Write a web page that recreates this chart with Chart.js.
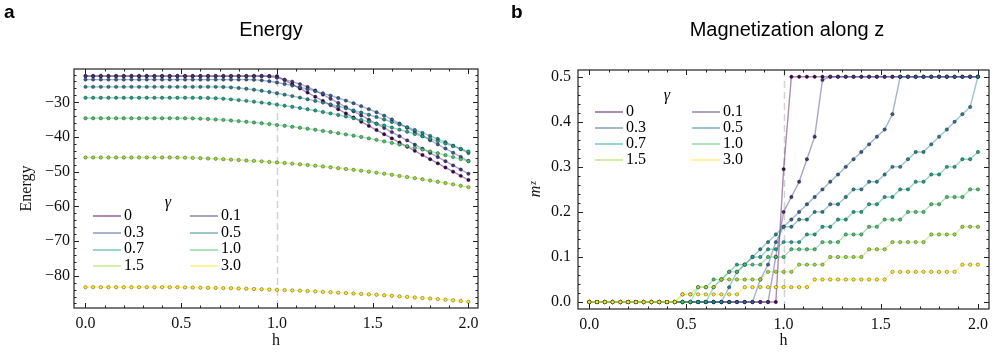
<!DOCTYPE html>
<html>
<head>
<meta charset="utf-8">
<script src="https://cdn.jsdelivr.net/npm/chart.js@4.4.1/dist/chart.umd.min.js"></script>
<style>
  body { margin: 0; background: #fff; }
  #wrap { position: relative; width: 996px; height: 353px; overflow: hidden; }
  canvas { position: absolute; top: 0; }
  .panel { position: absolute; font: bold 19px "Liberation Sans", Arial, sans-serif; color: #000; }
  .title { position: absolute; font: 20px "Liberation Sans", Arial, sans-serif; color: #000; transform: translateX(-50%); white-space: nowrap; }
  .leg { position: absolute; font: 16px "Liberation Serif", serif; color: #000; white-space: nowrap; transform: translateY(-50%); }
  .leg .sw { display: inline-block; width: 28px; height: 2px; vertical-align: middle; margin-right: 3px; }
  .gam { position: absolute; font: italic 16px "Liberation Serif", serif; transform: translate(-50%, -50%); }
</style>
</head>
<body>
<div id="wrap">
  <canvas id="chartEnergy" width="500" height="353" style="left:0"></canvas>
  <canvas id="chartMz" width="496" height="353" style="left:500px"></canvas>
  <div class="panel" style="left:4px; top:1px">a</div>
  <div class="panel" style="left:511px; top:1px">b</div>
  <div class="title" style="left:271px; top:18px">Energy</div>
  <div class="title" style="left:787px; top:18px">Magnetization along z</div>
</div>
<script>
const hValues = [0, 0.04, 0.08, 0.12, 0.16, 0.2, 0.24, 0.28, 0.32, 0.36,
  0.4, 0.44, 0.48, 0.52, 0.56, 0.6, 0.64, 0.68, 0.72, 0.76,
  0.8, 0.84, 0.88, 0.92, 0.96, 1.0, 1.04, 1.08, 1.12, 1.16,
  1.2, 1.24, 1.28, 1.32, 1.36, 1.4, 1.44, 1.48, 1.52, 1.56,
  1.6, 1.64, 1.68, 1.72, 1.76, 1.8, 1.84, 1.88, 1.92, 1.96, 2.0];

const gammaLabels = ["0", "0.1", "0.3", "0.5", "0.7", "1.0", "1.5", "3.0"];
const gammaColors = ["#440154", "#46327e", "#365c8d", "#277f8e", "#1fa187", "#4ac16d", "#a0da39", "#fde725"];

const hTicks = [0, 0.5, 1, 1.5, 2];
const energyTicks = [-80, -70, -60, -50, -40, -30];
const mzTicks = [0, 0.1, 0.2, 0.3, 0.4, 0.5];

const energyG0 = [-22.4, -22.4, -22.4, -22.4, -22.4, -22.4, -22.4, -22.4, -22.4, -22.4,
  -22.4, -22.4, -22.4, -22.4, -22.4, -22.4, -22.4, -22.4, -22.4, -22.4,
  -22.4, -22.4, -22.4, -22.4, -22.4, -22.45, -23.6, -24.8, -26.0, -27.2,
  -28.4, -29.6, -30.8, -32.0, -33.2, -34.4, -35.6, -36.8, -38.0, -39.2,
  -40.4, -41.6, -42.8, -44.0, -45.2, -46.4, -47.6, -48.8, -50.0, -51.2, -52.4];
const energyG01 = [-22.45, -22.45, -22.45, -22.45, -22.45, -22.45, -22.45, -22.45, -22.45, -22.45,
  -22.45, -22.45, -22.45, -22.45, -22.45, -22.45, -22.45, -22.45, -22.45, -22.45,
  -22.45, -22.45, -22.45, -22.45, -22.57, -22.93, -23.45, -24.05, -24.75, -25.57,
  -26.60, -27.79, -28.99, -30.19, -31.39, -32.59, -33.79, -34.99, -36.19, -37.39,
  -38.59, -39.79, -40.99, -42.19, -43.39, -44.59, -45.79, -46.99, -48.19, -49.39, -50.59];
const energyG03 = [-23.45, -23.45, -23.45, -23.45, -23.45, -23.45, -23.45, -23.45, -23.45, -23.45,
  -23.45, -23.45, -23.45, -23.45, -23.45, -23.45, -23.45, -23.45, -23.45, -23.45,
  -23.45, -23.45, -23.51, -23.67, -23.93, -24.29, -24.71, -25.17, -25.67, -26.21,
  -26.79, -27.41, -28.07, -28.77, -29.51, -30.29, -31.11, -31.97, -32.87, -33.83,
  -34.93, -36.13, -37.33, -38.53, -39.73, -40.93, -42.13, -43.33, -44.53, -45.73, -46.93];
const energyG05 = [-25.55, -25.55, -25.55, -25.55, -25.55, -25.55, -25.55, -25.55, -25.55, -25.55,
  -25.55, -25.55, -25.55, -25.55, -25.55, -25.55, -25.55, -25.55, -25.59, -25.71,
  -25.89, -26.11, -26.37, -26.67, -27.01, -27.39, -27.79, -28.21, -28.65, -29.11,
  -29.59, -30.09, -30.61, -31.15, -31.73, -32.33, -32.95, -33.59, -34.25, -34.95,
  -35.67, -36.41, -37.19, -37.99, -38.81, -39.67, -40.57, -41.51, -42.49, -43.51, -44.63];
const energyG07 = [-28.7, -28.7, -28.7, -28.7, -28.7, -28.7, -28.7, -28.7, -28.7, -28.7,
  -28.7, -28.7, -28.7, -28.7, -28.7, -28.7, -28.74, -28.84, -28.98, -29.16,
  -29.36, -29.58, -29.82, -30.08, -30.36, -30.66, -30.98, -31.30, -31.64, -32.00,
  -32.38, -32.78, -33.20, -33.64, -34.10, -34.58, -35.08, -35.60, -36.14, -36.70,
  -37.28, -37.88, -38.50, -39.14, -39.80, -40.48, -41.18, -41.90, -42.64, -43.40, -44.18];
const energyG10 = [-34.6, -34.6, -34.6, -34.6, -34.6, -34.6, -34.6, -34.6, -34.6, -34.6,
  -34.6, -34.6, -34.6, -34.6, -34.64, -34.72, -34.82, -34.94, -35.08, -35.24,
  -35.42, -35.62, -35.82, -36.04, -36.28, -36.52, -36.78, -37.06, -37.34, -37.62,
  -37.92, -38.24, -38.56, -38.90, -39.26, -39.62, -40.00, -40.40, -40.82, -41.26,
  -41.70, -42.16, -42.64, -43.12, -43.62, -44.14, -44.68, -45.24, -45.80, -46.38, -46.98];
const energyG15 = [-45.9, -45.9, -45.9, -45.9, -45.9, -45.9, -45.9, -45.9, -45.9, -45.9,
  -45.9, -45.9, -45.92, -45.96, -46.02, -46.10, -46.18, -46.28, -46.40, -46.52,
  -46.64, -46.76, -46.88, -47.02, -47.18, -47.34, -47.50, -47.68, -47.88, -48.08,
  -48.28, -48.50, -48.74, -48.98, -49.22, -49.46, -49.72, -50.00, -50.28, -50.58,
  -50.90, -51.22, -51.54, -51.86, -52.20, -52.56, -52.92, -53.28, -53.66, -54.06, -54.46];
const energyG30 = [-83.3, -83.3, -83.3, -83.3, -83.3, -83.3, -83.3, -83.3, -83.3, -83.3,
  -83.3, -83.3, -83.32, -83.36, -83.40, -83.44, -83.48, -83.52, -83.56, -83.60,
  -83.66, -83.74, -83.82, -83.90, -83.98, -84.06, -84.14, -84.22, -84.30, -84.40,
  -84.52, -84.64, -84.76, -84.88, -85.00, -85.12, -85.24, -85.36, -85.48, -85.62,
  -85.78, -85.94, -86.10, -86.26, -86.42, -86.58, -86.74, -86.90, -87.08, -87.28, -87.48];

const mzG0 = [0, 0, 0, 0, 0, 0, 0, 0, 0, 0,
  0, 0, 0, 0, 0, 0, 0, 0, 0, 0,
  0, 0, 0, 0, 0, 0.295, 0.5, 0.5, 0.5, 0.5,
  0.5, 0.5, 0.5, 0.5, 0.5, 0.5, 0.5, 0.5, 0.5, 0.5,
  0.5, 0.5, 0.5, 0.5, 0.5, 0.5, 0.5, 0.5, 0.5, 0.5, 0.5];
const mzG01 = [0, 0, 0, 0, 0, 0, 0, 0, 0, 0,
  0, 0, 0, 0, 0, 0, 0, 0, 0, 0,
  0, 0, 0, 0, 0.1, 0.2, 0.233, 0.267, 0.317, 0.367,
  0.493, 0.5, 0.5, 0.5, 0.5, 0.5, 0.5, 0.5, 0.5, 0.5,
  0.5, 0.5, 0.5, 0.5, 0.5, 0.5, 0.5, 0.5, 0.5, 0.5, 0.5];
const mzG03 = [0, 0, 0, 0, 0, 0, 0, 0, 0, 0,
  0, 0, 0, 0, 0, 0, 0, 0, 0, 0,
  0, 0, 0.05, 0.083, 0.133, 0.167, 0.183, 0.2, 0.217, 0.233,
  0.25, 0.267, 0.283, 0.3, 0.317, 0.333, 0.35, 0.367, 0.383, 0.417,
  0.5, 0.5, 0.5, 0.5, 0.5, 0.5, 0.5, 0.5, 0.5, 0.5, 0.5];
const mzG05 = [0, 0, 0, 0, 0, 0, 0, 0, 0, 0,
  0, 0, 0, 0, 0, 0, 0, 0, 0.033, 0.067,
  0.083, 0.1, 0.117, 0.133, 0.15, 0.167, 0.167, 0.183, 0.183, 0.2,
  0.2, 0.217, 0.217, 0.233, 0.25, 0.25, 0.267, 0.267, 0.283, 0.3,
  0.3, 0.317, 0.333, 0.333, 0.35, 0.367, 0.383, 0.4, 0.417, 0.433, 0.5];
const mzG07 = [0, 0, 0, 0, 0, 0, 0, 0, 0, 0,
  0, 0, 0, 0, 0, 0, 0.033, 0.05, 0.067, 0.083,
  0.083, 0.1, 0.1, 0.117, 0.117, 0.133, 0.133, 0.133, 0.15, 0.15,
  0.167, 0.167, 0.183, 0.183, 0.2, 0.2, 0.217, 0.217, 0.233, 0.233,
  0.25, 0.25, 0.267, 0.267, 0.283, 0.283, 0.3, 0.3, 0.317, 0.317, 0.333];
const mzG10 = [0, 0, 0, 0, 0, 0, 0, 0, 0, 0,
  0, 0, 0, 0, 0.033, 0.033, 0.05, 0.05, 0.067, 0.067,
  0.083, 0.083, 0.083, 0.1, 0.1, 0.1, 0.117, 0.117, 0.117, 0.117,
  0.133, 0.133, 0.133, 0.15, 0.15, 0.15, 0.167, 0.167, 0.183, 0.183,
  0.183, 0.2, 0.2, 0.2, 0.217, 0.217, 0.233, 0.233, 0.233, 0.25, 0.25];
const mzG15 = [0, 0, 0, 0, 0, 0, 0, 0, 0, 0,
  0, 0, 0.017, 0.017, 0.033, 0.033, 0.033, 0.05, 0.05, 0.05,
  0.05, 0.05, 0.05, 0.067, 0.067, 0.067, 0.067, 0.083, 0.083, 0.083,
  0.083, 0.1, 0.1, 0.1, 0.1, 0.1, 0.117, 0.117, 0.117, 0.133,
  0.133, 0.133, 0.133, 0.133, 0.15, 0.15, 0.15, 0.15, 0.167, 0.167, 0.167];
const mzG30 = [0, 0, 0, 0, 0, 0, 0, 0, 0, 0,
  0, 0, 0.017, 0.017, 0.017, 0.017, 0.017, 0.017, 0.017, 0.017,
  0.033, 0.033, 0.033, 0.033, 0.033, 0.033, 0.033, 0.033, 0.033, 0.05,
  0.05, 0.05, 0.05, 0.05, 0.05, 0.05, 0.05, 0.05, 0.05, 0.067,
  0.067, 0.067, 0.067, 0.067, 0.067, 0.067, 0.067, 0.067, 0.083, 0.083, 0.083];

const energySeries = [energyG0, energyG01, energyG03, energyG05, energyG07, energyG10, energyG15, energyG30];
const mzSeries = [mzG0, mzG01, mzG03, mzG05, mzG07, mzG10, mzG15, mzG30];

function withAlpha(hex, a) {
  const n = parseInt(hex.slice(1), 16);
  return `rgba(${(n >> 16) & 255}, ${(n >> 8) & 255}, ${n & 255}, ${a})`;
}

const serif = "'Liberation Serif', 'Times New Roman', serif";

function makeDatasets(seriesList) {
  return seriesList.map((values, i) => ({
    label: gammaLabels[i],
    data: hValues.map((h, j) => ({ x: h, y: values[j] })),
    borderColor: withAlpha(gammaColors[i], 0.45),
    borderWidth: 1.4,
    pointRadius: 1.7,
    pointBackgroundColor: gammaColors[i],
    pointBorderColor: "rgba(0, 0, 0, 0.55)",
    pointBorderWidth: 0.6,
    tension: 0,
    order: seriesList.length - i
  }));
}

// frame, inward ticks on all four sides and the dashed line at h = 1
const framePlugin = {
  id: "frameTicks",
  beforeDatasetsDraw(chart) {
    const { ctx, chartArea: a, scales } = chart;
    const px = Math.round(scales.x.getPixelForValue(1)) + 0.5;
    ctx.save();
    ctx.strokeStyle = "#d2d2d2";
    ctx.lineWidth = 1.5;
    ctx.setLineDash([7, 4]);
    ctx.beginPath();
    ctx.moveTo(px, a.top);
    ctx.lineTo(px, a.bottom);
    ctx.stroke();
    ctx.restore();
  },
  afterDraw(chart, args, opts) {
    const { ctx, chartArea: a, scales } = chart;
    const x = scales.x;
    const y = scales.y;
    ctx.save();
    ctx.strokeStyle = "#222";
    ctx.lineWidth = 1;
    ctx.beginPath();

    const xTick = (v, len) => {
      const p = Math.round(x.getPixelForValue(v)) + 0.5;
      ctx.moveTo(p, a.bottom); ctx.lineTo(p, a.bottom - len);
      ctx.moveTo(p, a.top); ctx.lineTo(p, a.top + len);
    };
    const yTick = (v, len) => {
      const p = Math.round(y.getPixelForValue(v)) + 0.5;
      ctx.moveTo(a.left, p); ctx.lineTo(a.left + len, p);
      ctx.moveTo(a.right, p); ctx.lineTo(a.right - len, p);
    };

    for (let k = 0; k <= 20; k++) {
      const v = k / 10;
      xTick(v, k % 5 === 0 ? 5 : 2.5);
    }
    const ys = opts.yMinor;
    for (let v = ys.from; v <= ys.to + 1e-9; v += ys.step) {
      const major = opts.yMajor.some((m) => Math.abs(m - v) < ys.step / 4);
      yTick(v, major ? 5 : 2.5);
    }
    ctx.stroke();

    ctx.lineWidth = 1.2;
    ctx.strokeRect(a.left, a.top, a.right - a.left, a.bottom - a.top);
    ctx.restore();
  }
};

function buildChart(canvasId, seriesList, cfg) {
  return new Chart(document.getElementById(canvasId), {
    type: "line",
    data: { datasets: makeDatasets(seriesList) },
    plugins: [framePlugin],
    options: {
      responsive: false,
      animation: false,
      devicePixelRatio: 1,
      layout: { padding: { top: cfg.top, right: cfg.right, left: 0, bottom: 0 } },
      plugins: {
        legend: { display: false },
        tooltip: { enabled: false },
        frameTicks: { yMinor: cfg.yMinor, yMajor: cfg.yTicks }
      },
      scales: {
        x: {
          type: "linear",
          min: cfg.xMin,
          max: cfg.xMax,
          grid: { display: false, drawTicks: false },
          border: { display: false },
          afterBuildTicks: (s) => { s.ticks = hTicks.map((v) => ({ value: v })); },
          afterFit: (s) => { s.height = cfg.xHeight; },
          ticks: {
            padding: 6,
            color: "#111",
            maxRotation: 0,
            autoSkip: false,
            font: { family: serif, size: 16 },
            callback: (v) => Number(v).toFixed(1)
          },
          title: {
            display: true,
            text: "h",
            color: "#111",
            font: { family: serif, size: 16 },
            padding: { top: 0, bottom: 3 }
          }
        },
        y: {
          type: "linear",
          min: cfg.yMin,
          max: cfg.yMax,
          grid: { display: false, drawTicks: false },
          border: { display: false },
          afterBuildTicks: (s) => { s.ticks = cfg.yTicks.map((v) => ({ value: v })); },
          afterFit: (s) => { s.width = cfg.yWidth; },
          ticks: {
            padding: cfg.yPad,
            color: "#111",
            autoSkip: false,
            font: { family: serif, size: 16 },
            callback: cfg.yLabel
          },
          title: {
            display: true,
            text: cfg.yTitle,
            color: "#111",
            font: { family: serif, size: 16, style: cfg.yTitleStyle },
            padding: { top: cfg.yTitlePad, bottom: 0 }
          }
        }
      }
    }
  });
}

buildChart("chartEnergy", energySeries, {
  top: 69, right: 22, xHeight: 45, yWidth: 74, yPad: 4,
  xMin: -0.06, xMax: 2.05, yMin: -89.3, yMax: -20.4,
  yTicks: energyTicks,
  yMinor: { from: -88, to: -22, step: 2 },
  yLabel: (v) => "\u2212" + Math.abs(v),
  yTitle: "Energy", yTitleStyle: "normal", yTitlePad: 17
});

buildChart("chartMz", mzSeries, {
  top: 70, right: 7, xHeight: 44, yWidth: 78, yPad: 7,
  xMin: -0.058, xMax: 2.057, yMin: -0.0155, yMax: 0.515,
  yTicks: mzTicks,
  yMinor: { from: 0, to: 0.5, step: 0.02 },
  yLabel: (v) => Number(v).toFixed(1),
  yTitle: "m\u1DBB", yTitleStyle: "italic", yTitlePad: 26
});

// legends drawn inside the plot areas
function buildLegend(pos) {
  const wrap = document.getElementById("wrap");
  const g = document.createElement("div");
  g.className = "gam";
  g.style.left = pos.gx + "px";
  g.style.top = pos.gy + "px";
  g.textContent = "\u03B3";
  wrap.appendChild(g);
  gammaLabels.forEach((label, i) => {
    const row = Math.floor(i / 2);
    const col = i % 2;
    const item = document.createElement("div");
    item.className = "leg";
    item.style.left = pos.cols[col] + "px";
    item.style.top = (pos.rowY + row * pos.rowStep) + "px";
    const sw = document.createElement("span");
    sw.className = "sw";
    sw.style.background = withAlpha(gammaColors[i], 0.45);
    item.appendChild(sw);
    item.appendChild(document.createTextNode(label));
    wrap.appendChild(item);
  });
}

buildLegend({ gx: 168, gy: 202, cols: [93, 190], rowY: 215, rowStep: 16.6 });
buildLegend({ gx: 667, gy: 95, cols: [595, 692], rowY: 111, rowStep: 16 });
</script>
</body>
</html>
